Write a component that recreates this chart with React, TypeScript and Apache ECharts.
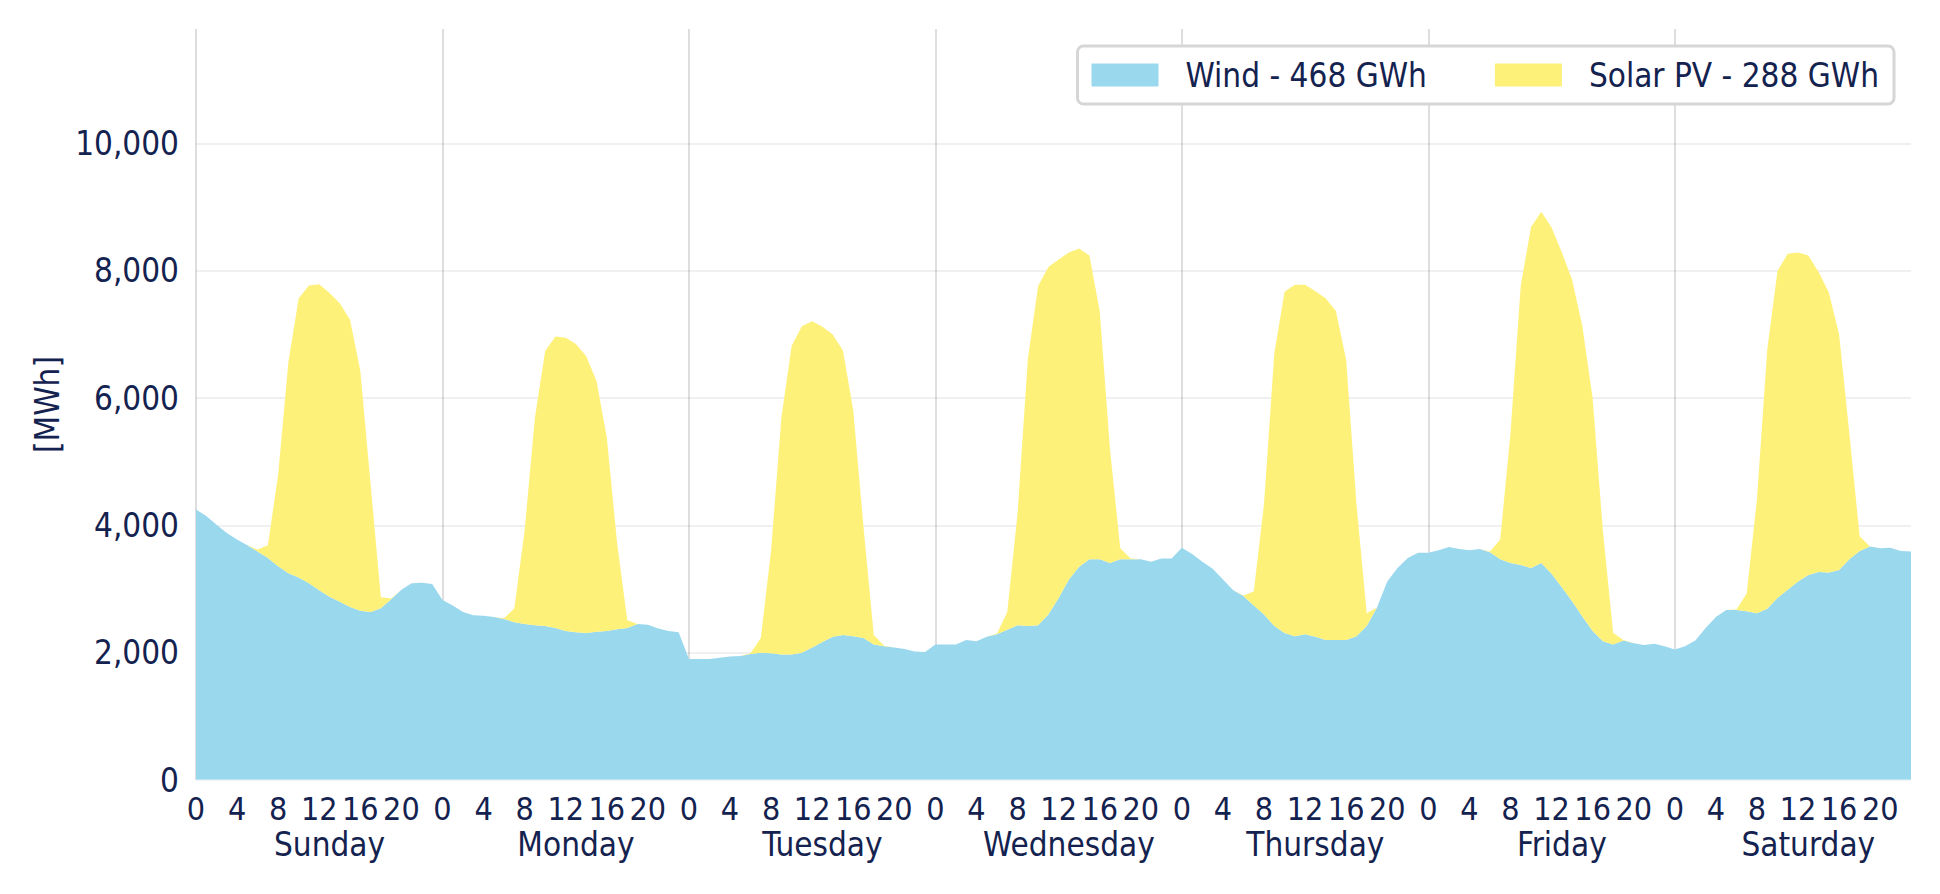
import { useEffect, useRef } from 'react';
import * as echarts from 'echarts';

const DAYS = ['Sunday', 'Monday', 'Tuesday', 'Wednesday', 'Thursday', 'Friday', 'Saturday'];
const HOURS = [
  '0', '1', '2', '3', '4', '5', '6', '7', '8', '9', '10', '11',
  '12', '13', '14', '15', '16', '17', '18', '19', '20', '21', '22', '23',
];

// hourly output [MWh], one row per day
const WIND = [
  4250, 4150, 4010, 3880, 3780, 3690, 3590, 3490, 3360, 3250, 3180, 3090, 2980, 2880, 2800, 2720, 2660, 2640, 2700, 2840, 2990, 3090, 3100, 3080,
  2830, 2740, 2640, 2590, 2580, 2560, 2530, 2480, 2450, 2430, 2420, 2390, 2340, 2320, 2310, 2330, 2340, 2370, 2390, 2450, 2440, 2380, 2340, 2320,
  1900, 1900, 1900, 1920, 1940, 1950, 1980, 2000, 1990, 1970, 1970, 2000, 2080, 2170, 2250, 2280, 2260, 2230, 2130, 2100, 2080, 2060, 2020, 2010,
  2130, 2130, 2130, 2200, 2180, 2250, 2290, 2360, 2430, 2420, 2430, 2600, 2860, 3150, 3350, 3470, 3470, 3410, 3470, 3470, 3470, 3430, 3480, 3480,
  3650, 3550, 3430, 3320, 3150, 2980, 2890, 2740, 2600, 2420, 2310, 2260, 2290, 2250, 2200, 2200, 2200, 2260, 2420, 2710, 3120, 3330, 3490, 3570,
  3570, 3610, 3660, 3630, 3610, 3630, 3580, 3470, 3410, 3380, 3330, 3410, 3240, 3030, 2810, 2570, 2340, 2180, 2130, 2190, 2150, 2120, 2140, 2100,
  2050, 2100, 2190, 2390, 2560, 2670, 2670, 2650, 2620, 2690, 2860, 2990, 3120, 3220, 3270, 3260, 3300, 3470, 3600, 3670, 3640, 3650, 3600, 3590,
];

const SOLAR = [
  0, 0, 0, 0, 0, 0, 30, 200, 1440, 3320, 4390, 4680, 4810, 4770, 4690, 4510, 3770, 2010, 170, 10, 0, 0, 0, 0,
  0, 0, 0, 0, 0, 0, 10, 220, 1470, 3260, 4320, 4580, 4610, 4530, 4350, 3940, 3050, 1360, 120, 0, 0, 0, 0, 0,
  0, 0, 0, 0, 0, 0, 10, 230, 1620, 3720, 4850, 5130, 5130, 4950, 4750, 4470, 3550, 1740, 150, 10, 0, 0, 0, 0,
  0, 0, 0, 0, 0, 0, 10, 280, 1760, 4190, 5330, 5460, 5320, 5140, 5000, 4770, 3900, 1790, 170, 10, 0, 0, 0, 0,
  0, 0, 0, 0, 0, 0, 10, 220, 1740, 4280, 5360, 5520, 5490, 5430, 5370, 5170, 4400, 2080, 200, 0, 0, 0, 0, 0,
  0, 0, 0, 0, 0, 0, 10, 310, 2040, 4390, 5360, 5520, 5440, 5260, 5050, 4560, 3660, 1730, 180, 10, 0, 0, 0, 0,
  0, 0, 0, 0, 0, 0, 10, 280, 1790, 4070, 5140, 5280, 5170, 5020, 4710, 4400, 3700, 1970, 230, 0, 0, 0, 0, 0,
];

const SERIES = ['Wind - 468 GWh', 'Solar PV - 288 GWh'];
const COLORS = ['#9ad8ee', '#fef17a'];

const TEXT = '#14224f';
const FONT = "'DejaVu Sans Condensed', 'Liberation Sans', sans-serif";

const TIME = DAYS.flatMap((d) => HOURS.map((h) => `${d} ${h}`));

export default function App() {
  const chartRef = useRef<HTMLDivElement>(null);

  useEffect(() => {
    document.body.style.margin = '0';
    if (!chartRef.current) return;
    const chart = echarts.init(chartRef.current, null, { renderer: 'svg' });

    const labelBase = { fontFamily: FONT, fontSize: 33, color: TEXT };

    chart.setOption({
      animation: false,
      textStyle: { fontFamily: FONT },
      grid: { left: 196, right: 29, top: 29, bottom: 114, containLabel: false },
      legend: {
        right: 46,
        top: 46,
        icon: 'rect',
        itemWidth: 67,
        itemHeight: 23,
        itemGap: 68,
        padding: [9, 15, 9, 14],
        borderColor: '#d6d6d6',
        borderWidth: 3,
        borderRadius: 6,
        backgroundColor: '#ffffff',
        textStyle: { ...labelBase, padding: [0, 0, 0, 22], lineHeight: 40 },
        data: SERIES,
      },
      xAxis: [
        {
          type: 'category',
          data: TIME,
          boundaryGap: false,
          position: 'bottom',
          z: 3,
          axisLine: { show: true, lineStyle: { color: 'rgba(255,255,255,0.35)', width: 2 } },
          axisTick: { show: false },
          axisLabel: {
            ...labelBase,
            fontSize: 32,
            margin: 13,
            interval: (i: number) => i % 4 === 0,
            formatter: (v: string) => v.split(' ')[1],
          },
          splitLine: {
            show: true,
            interval: (i: number) => i % 24 === 0,
            lineStyle: { color: 'rgba(0,0,0,0.13)', width: 2 },
          },
        },
        {
          type: 'category',
          data: TIME,
          boundaryGap: false,
          position: 'bottom',
          axisLine: { show: false },
          axisTick: { show: false },
          splitLine: { show: false },
          axisLabel: {
            ...labelBase,
            margin: 48,
            interval: (i: number) => i % 24 === 13,
            formatter: (v: string) => v.split(' ')[0],
          },
        },
      ],
      yAxis: {
        type: 'value',
        min: 0,
        max: 11800,
        interval: 2000,
        z: 3,
        name: '[MWh]',
        nameLocation: 'middle',
        nameGap: 126,
        nameTextStyle: labelBase,
        axisLine: { show: false },
        axisTick: { show: false },
        axisLabel: {
          ...labelBase,
          margin: 17,
          showMaxLabel: false,
          formatter: (v: number) => v.toLocaleString('en-US'),
        },
        splitLine: {
          show: true,
          showMaxLine: false,
          lineStyle: { color: 'rgba(0,0,0,0.06)', width: 2 },
        },
      },
      series: [WIND, SOLAR].map((data, i) => ({
        name: SERIES[i],
        type: 'line',
        stack: 'total',
        data,
        xAxisIndex: 0,
        showSymbol: false,
        symbol: 'none',
        lineStyle: { width: 0 },
        itemStyle: { color: COLORS[i] },
        areaStyle: { color: COLORS[i], opacity: 1 },
      })),
    });

    return () => chart.dispose();
  }, []);

  return <div ref={chartRef} style={{ width: 1940, height: 894 }} />;
}
